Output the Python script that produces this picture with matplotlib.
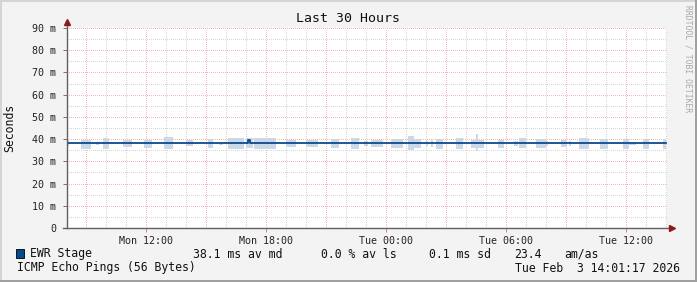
import matplotlib
matplotlib.use("Agg")
import matplotlib.pyplot as plt
from matplotlib.patches import Rectangle
import numpy as np

# ---------------- data ----------------
title = "Last 30 Hours"
ylabel = "Seconds"
start_clock = 8 + 2 / 60.0          # Mon 08:02 (hours of day at left edge)
span_hours = 30
ytick_vals = [0, 10, 20, 30, 40, 50, 60, 70, 80, 90]
ytick_labels = ["0", "10 m", "20 m", "30 m", "40 m", "50 m", "60 m", "70 m", "80 m", "90 m"]
xtick_clock = [12, 18, 24, 30, 36]   # hours since Mon 00:00
xtick_labels = ["Mon 12:00", "Mon 18:00", "Tue 00:00", "Tue 06:00", "Tue 12:00"]

# smoke segments: hours from start, low/high in ms
smoke_start = [0.00, 0.70, 1.45, 1.80, 2.80, 3.85, 4.85, 5.95, 7.05, 7.60, 8.05, 8.95, 9.35,
               10.95, 11.95, 13.20, 14.20, 14.85, 15.20, 16.20, 17.05, 17.35, 17.95, 18.20,
               18.45, 19.45, 20.20, 20.55, 21.55, 22.35, 22.60, 23.45, 23.95, 24.70, 25.10,
               25.60, 26.65, 27.80, 28.10, 28.80, 29.80]
smoke_end = [0.10, 1.20, 1.60, 2.10, 3.25, 4.25, 5.30, 6.30, 7.30, 7.80, 8.85, 9.30, 10.45,
             11.45, 12.55, 13.60, 14.60, 15.05, 15.80, 16.80, 17.35, 17.70, 18.05, 18.30,
             18.80, 19.80, 20.55, 20.85, 21.85, 22.55, 22.95, 23.95, 24.05, 25.00, 25.20,
             26.10, 27.05, 28.10, 28.45, 29.10, 29.95]
smoke_low = [36.8, 35.7, 37.4, 35.5, 36.4, 36.0, 35.5, 37.0, 36.0, 37.4, 35.6, 36.0, 35.5,
             36.5, 36.5, 36.0, 35.5, 37.0, 36.5, 36.0, 35.0, 35.8, 36.8, 36.5,
             35.6, 35.5, 36.0, 35.8, 36.0, 37.0, 36.0, 36.0, 36.8, 36.5, 36.8,
             35.5, 35.5, 35.5, 37.2, 35.5, 35.5]
smoke_high = [39.5, 39.8, 38.7, 40.5, 39.6, 39.6, 41.0, 39.5, 40.0, 38.7, 40.5, 40.5, 40.5,
              39.5, 39.5, 40.0, 40.5, 39.0, 39.5, 40.0, 41.5, 40.0, 39.2, 39.5,
              40.0, 40.5, 39.5, 39.8, 39.5, 39.0, 40.5, 40.0, 39.2, 39.5, 39.0,
              40.5, 40.0, 40.0, 38.6, 40.0, 40.0]
# narrow spike in smoke
spike_t = [20.45, 20.55]
spike_lo = [34.5, 34.5]
spike_hi = [42.5, 42.5]

median_t = [0.0, 9.05, 9.15, 29.95]
median_v = [38.1, 39.5, 38.1, 38.1]

legend_name = "EWR Stage"
legend_stats = ["38.1 ms av md", "0.0 % av ls", "0.1 ms sd", "23.4", "am/as"]
footer_left = "ICMP Echo Pings (56 Bytes)"
footer_right = "Tue Feb  3 14:01:17 2026"
watermark = "RRDTOOL / TOBI OETIKER"

# ---------------- layout ----------------
W, H = 697, 282
plt.rcParams['font.family'] = ['DejaVu Sans Mono']
plt.rcParams['lines.scale_dashes'] = False
fig = plt.figure(figsize=(W / 100, H / 100), dpi=100, facecolor='#f3f3f3')

def fx(x):
    return x / W

def fy(y):
    return 1 - y / H

L, R, T, B = 67, 667, 28, 228
ax = fig.add_axes([fx(L), fy(B), (R - L) / W, (B - T) / H])
ax.set_facecolor('white')
ax.set_xlim(0, span_hours)
ax.set_ylim(0, 90)
for s in ax.spines.values():
    s.set_visible(False)

dot = (0, (0.72, 1.44))
major_c, minor_c = '#f5b8b8', '#d6d6d6'
first_h = int(np.ceil(start_clock))
for hc in range(first_h, int(start_clock + span_hours) + 1):
    h = hc - start_clock
    if 0 < h <= span_hours:
        major = (hc % 3 == 0)
        ax.axvline(h, color=major_c if major else minor_c, lw=0.72, ls=dot,
                   antialiased=False, zorder=1)
for v in range(5, 91, 5):
    major = (v % 10 == 0)
    ax.axhline(v, color=major_c if major else minor_c, lw=0.72, ls=dot,
               antialiased=False, zorder=1)

# smoke
for s, e, lo, hi in zip(smoke_start, smoke_end, smoke_low, smoke_high):
    ax.fill_between([s, e], [lo, lo], [hi, hi], color='#cbd8e7', lw=0, zorder=2)
ax.fill_between(spike_t, spike_lo, spike_hi, color='#cbd8e7', lw=0, zorder=2)

# median
ax.plot(median_t, median_v, drawstyle='steps-post', color='#0c4a8a', lw=1.3, zorder=3)

# ticks
ax.set_yticks(ytick_vals)
ax.set_yticklabels(ytick_labels)
ax.set_xticks([c - start_clock for c in xtick_clock])
ax.set_xticklabels(xtick_labels)
ax.tick_params(axis='y', length=3, width=0.7, color='#707070', pad=5, labelsize=7.2, labelcolor='#222222')
ax.tick_params(axis='x', length=3, width=0.7, color='#d08080', pad=3, labelsize=7.2, labelcolor='#222222')

# axis lines with arrows
ax.plot([0, 0], [0, 1.025], transform=ax.transAxes, color='#606060', lw=1.0, clip_on=False, zorder=5)
ax.plot([-0.006, 1.008], [0, 0], transform=ax.transAxes, color='#606060', lw=1.0, clip_on=False, zorder=5)
ax.plot([0], [1.028], transform=ax.transAxes, marker='^', ms=4, color='#8b1a1a', clip_on=False, zorder=6)
ax.plot([1.009], [0], transform=ax.transAxes, marker='>', ms=4, color='#8b1a1a', clip_on=False, zorder=6)

# title, labels
fig.text(fx(348), fy(19), title, ha='center', va='center', fontsize=9.5, color='#111111')
fig.text(fx(10), fy(128), ylabel, ha='center', va='center', rotation=90, fontsize=8.3, color='#111111')
fig.text(fx(688), fy(5), watermark, ha='center', va='top', rotation=270, fontsize=5.8, color='#a8a8a8')

# legend
fig.patches.append(Rectangle((fx(16), fy(258)), 8 / W, 9 / H, transform=fig.transFigure,
                             facecolor='#004a8f', edgecolor='#111111', lw=0.7))
fig.text(fx(30), fy(254), legend_name, ha='left', va='center', fontsize=8.3, color='#111111')
stat_x = [193, 321, 429, 514, 564]
for x, s in zip(stat_x, legend_stats):
    fig.text(fx(x), fy(254), s, ha='left', va='center', fontsize=8.3, color='#111111')
fig.text(fx(17), fy(268), footer_left, ha='left', va='center', fontsize=8.3, color='#111111')
fig.text(fx(680), fy(268), footer_right, ha='right', va='center', fontsize=8.3, color='#111111')

# bevel border
fig.patches.append(Rectangle((0, 1 - 2 / H), 1, 2 / H, transform=fig.transFigure, facecolor='#d4d4d4', lw=0))
fig.patches.append(Rectangle((0, 0), 2 / W, 1, transform=fig.transFigure, facecolor='#d4d4d4', lw=0))
fig.patches.append(Rectangle((0, 0), 1, 2 / H, transform=fig.transFigure, facecolor='#a0a0a0', lw=0))
fig.patches.append(Rectangle((1 - 2 / W, 0), 2 / W, 1, transform=fig.transFigure, facecolor='#a0a0a0', lw=0))

fig.savefig('out.png', dpi=100, facecolor=fig.get_facecolor())
